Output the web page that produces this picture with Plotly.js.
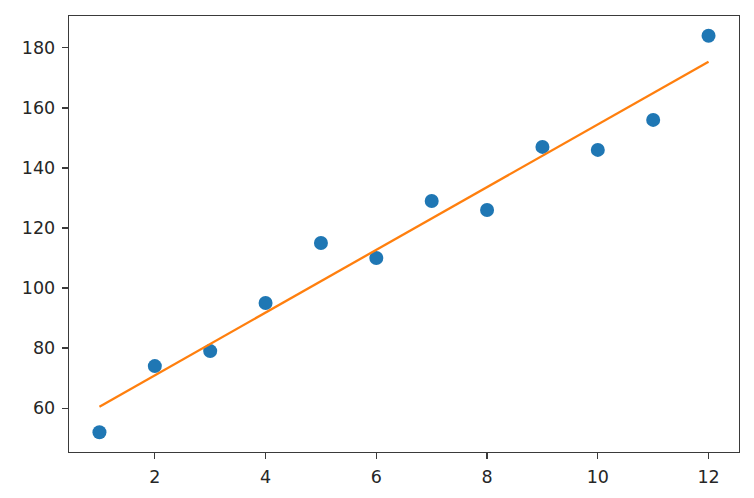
<!DOCTYPE html>
<html>
<head>
<meta charset="utf-8">
<script src="https://cdn.plot.ly/plotly-3.0.1.min.js"></script>
<style>html,body{margin:0;padding:0;background:#fff;}#chart{width:754px;height:498px;}</style>
</head>
<body>
<div id="chart"></div>
<script>
// Data
const xValues = [1, 2, 3, 4, 5, 6, 7, 8, 9, 10, 11, 12];
const yValues = [52, 74, 79, 95, 115, 110, 129, 126, 147, 146, 156, 184];
const fitX = [1, 12];
const fitY = [60.5, 175.4];
const xTicks = [2, 4, 6, 8, 10, 12];
const yTicks = [60, 80, 100, 120, 140, 160, 180];

const axisCommon = {
  showline: true, mirror: true, linecolor: '#3a3a3a', linewidth: 1.3,
  ticks: 'outside', ticklen: 6, tickwidth: 1.3, tickcolor: '#3a3a3a',
  showgrid: false, zeroline: false,
  tickfont: {family: 'DejaVu Sans', size: 17.5, color: '#262626'},
  tickmode: 'array'
};

const traces = [
  {x: xValues, y: yValues, type: 'scatter', mode: 'markers',
   marker: {color: '#1f77b4', size: 14}, showlegend: false},
  {x: fitX, y: fitY, type: 'scatter', mode: 'lines',
   line: {color: '#ff7f0e', width: 2.3}, showlegend: false}
];

const layout = {
  width: 754, height: 498,
  margin: {l: 69, r: 14.5, t: 16, b: 45.5},
  paper_bgcolor: '#fff', plot_bgcolor: '#fff',
  xaxis: Object.assign({}, axisCommon, {range: [0.45, 12.55], tickvals: xTicks, ticktext: xTicks.map(String), ticklabelstandoff: 3}),
  yaxis: Object.assign({}, axisCommon, {range: [45.4, 190.6], tickvals: yTicks, ticktext: yTicks.map(String), ticklabelstandoff: 3})
};

Plotly.newPlot('chart', traces, layout, {displayModeBar: false, staticPlot: true});
</script>
</body>
</html>
